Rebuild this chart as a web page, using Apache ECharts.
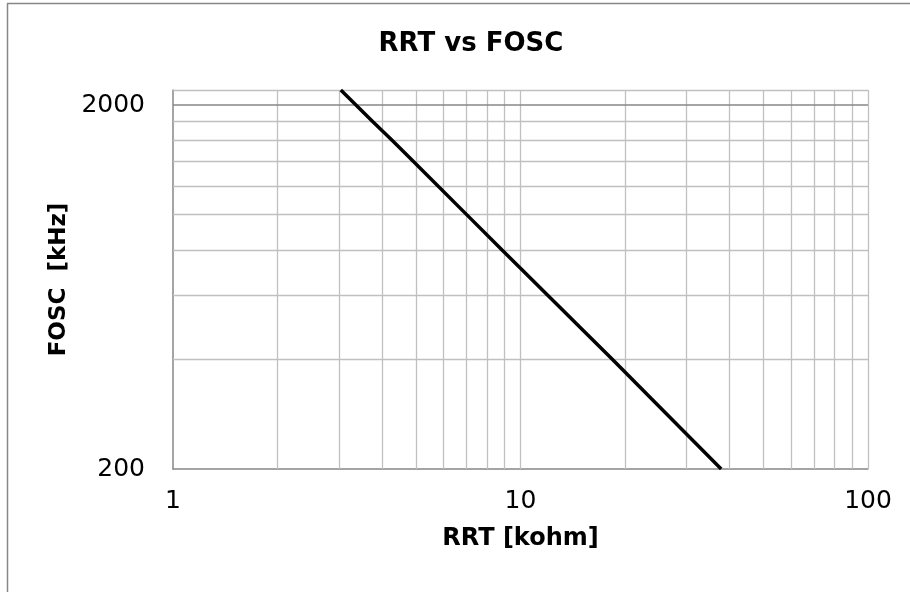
<!DOCTYPE html>
<html>
<head>
<meta charset="utf-8">
<script src="https://cdn.jsdelivr.net/npm/echarts@6/dist/echarts.min.js"></script>
<style>
  html, body { margin: 0; padding: 0; background: #ffffff; }
  #chart { width: 910px; height: 592px; }
</style>
</head>
<body>
<div id="chart"></div>
<script>
// ---- data ----
const rrtKohm  = [3.04, 3.76, 4.27, 4.92, 7.0, 8.85, 18.4, 37.8];
const foscKHz  = [2200, 1800, 1600, 1400, 1000, 800, 400, 200];
const xTickLabels = [1, 10, 100];
const yTickLabels = [200, 2000];
const xGridValues = [2, 3, 4, 5, 6, 7, 8, 9, 10, 20, 30, 40, 50, 60, 70, 80, 90, 100];
const yMinorGridValues = [400, 600, 800, 1000, 1200, 1400, 1600, 1800, 2200];
const yMajorGridValues = [2000];

const FONT = 'DejaVu Sans';
const lightGrid = { color: '#c0c0c0', width: 1.3, type: 'solid' };
const darkGrid = { color: '#878787', width: 1.5, type: 'solid' };
const labelStyle = { fontFamily: FONT, fontSize: 25, color: '#000' };

function buildGridMarks(withLabels) {
  const marks = []
    .concat(xGridValues.map(v => ({ xAxis: v, lineStyle: lightGrid })))
    .concat(yMinorGridValues.map(v => ({ yAxis: v, lineStyle: lightGrid })));
  const majors = yMajorGridValues.concat(withLabels ? [yTickLabels[0]] : []);
  majors.forEach(v => {
    const item = { yAxis: v, lineStyle: darkGrid };
    if (withLabels && yTickLabels.indexOf(v) >= 0) {
      item.label = Object.assign({
        show: true, position: 'start', distance: 28,
        formatter: String(v)
      }, labelStyle);
    }
    marks.push(item);
  });
  return marks;
}

const chart = echarts.init(document.getElementById('chart'), null, { renderer: 'canvas' });

function makeOption(fallbackLabels) {
  return {
    animation: false,
    backgroundColor: '#ffffff',
    title: {
      text: 'RRT vs FOSC',
      left: 466,
      top: 26,
      textAlign: 'center',
      textStyle: { fontFamily: FONT, fontWeight: 'bold', fontSize: 26, color: '#000' }
    },
    grid: { left: 173, right: 42, top: 90, bottom: 123, containLabel: false },
    xAxis: {
      type: 'log',
      logBase: 10,
      min: 1,
      max: 100,
      name: 'RRT [kohm]',
      nameLocation: 'middle',
      nameGap: 58,
      nameTextStyle: { fontFamily: FONT, fontWeight: 'bold', fontSize: 24, color: '#000' },
      axisLine: { show: true, lineStyle: { color: '#878787', width: 1.5 } },
      axisTick: { show: false },
      splitLine: { show: false },
      axisLabel: Object.assign({
        margin: 20,
        formatter: v => {
          const r = Math.round(v);
          return xTickLabels.indexOf(r) >= 0 ? String(r) : '';
        }
      }, labelStyle)
    },
    yAxis: {
      type: 'log',
      logBase: 10,
      min: 200,
      max: 2200,
      name: 'FOSC  [kHz]',
      nameLocation: 'middle',
      nameGap: 95,
      nameRotate: 90,
      nameTextStyle: { fontFamily: FONT, fontWeight: 'bold', fontSize: 23, color: '#000' },
      axisLine: { show: true, lineStyle: { color: '#878787', width: 1.5 } },
      axisTick: { show: false },
      splitLine: { show: false },
      axisLabel: Object.assign({
        show: !fallbackLabels,
        customValues: fallbackLabels ? undefined : yTickLabels,
        margin: 28,
        formatter: v => {
          const r = Math.round(v);
          return yTickLabels.indexOf(r) >= 0 ? String(r) : '';
        }
      }, labelStyle)
    },
    graphic: [
      { type: 'line', shape: { x1: 7, y1: 3.5, x2: 910, y2: 3.5 }, style: { stroke: '#878787', lineWidth: 1.5 } },
      { type: 'line', shape: { x1: 7.5, y1: 3.5, x2: 7.5, y2: 592 }, style: { stroke: '#878787', lineWidth: 1.5 } }
    ],
    series: [
      {
        type: 'line',
        name: 'grid',
        data: [],
        z: 1,
        silent: true,
        markLine: {
          silent: true,
          symbol: ['none', 'none'],
          label: { show: false },
          animation: false,
          data: buildGridMarks(fallbackLabels)
        }
      },
      {
        type: 'line',
        name: 'FOSC',
        z: 5,
        data: rrtKohm.map((x, i) => [x, foscKHz[i]]),
        showSymbol: false,
        symbol: 'none',
        lineStyle: { color: '#000000', width: 3.5 },
        clip: true
      }
    ]
  };
}

chart.setOption(makeOption(false));

// check that both wanted y labels are really drawn by the axis; otherwise use marked labels
let ok = false;
try {
  const axis = chart.getModel().getComponent('yAxis', 0).axis;
  const labels = axis.getViewLabels().map(l => l.formattedLabel);
  ok = yTickLabels.every(v => labels.indexOf(String(v)) >= 0);
} catch (e) { ok = false; }
if (!ok) {
  chart.setOption(makeOption(true), true);
}
</script>
</body>
</html>
